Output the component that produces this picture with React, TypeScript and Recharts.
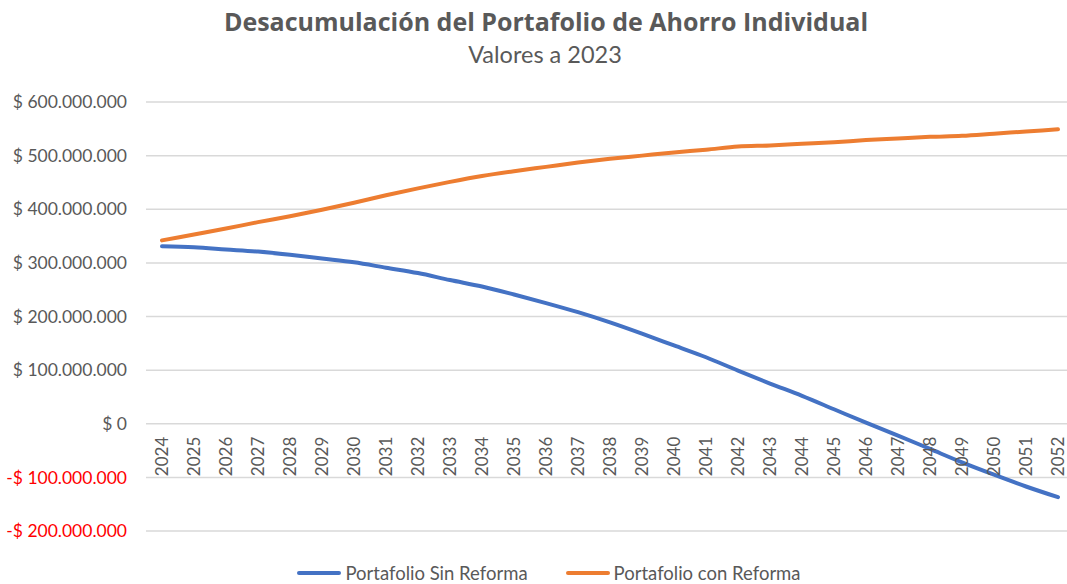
import React from 'react';
import { LineChart, Line, XAxis, YAxis, CartesianGrid } from 'recharts';

const years = [
  '2024', '2025', '2026', '2027', '2028', '2029', '2030', '2031', '2032', '2033',
  '2034', '2035', '2036', '2037', '2038', '2039', '2040', '2041', '2042', '2043',
  '2044', '2045', '2046', '2047', '2048', '2049', '2050', '2051', '2052',
];

// millones de pesos
const sinReforma = [
  331, 329, 325, 321, 315, 308, 301, 291, 281, 268,
  256, 241, 225, 208, 189, 168, 146, 124, 99, 75,
  52, 27, 2, -22, -47, -72, -95, -117, -137,
];

const conReforma = [
  342, 353, 364, 376, 387, 399, 412, 426, 439, 451,
  462, 471, 479, 487, 494, 500, 506, 511, 517, 519,
  522, 525, 529, 532, 535, 537, 541, 545, 549,
];

const yTicks = [600, 500, 400, 300, 200, 100, 0, -100, -200];

const data = years.map((y, i) => ({
  year: y,
  sin: sinReforma[i] * 1e6,
  con: conReforma[i] * 1e6,
}));

const BLUE = '#4472C4';
const ORANGE = '#ED7D31';
const GREY = '#595959';
const FONT = 'Lato, "Noto Sans", sans-serif';

const TOP = 102;
const PLOT_H = 429;
const Y_MAX = 600e6;
const Y_MIN = -200e6;
const zeroY = TOP + (PLOT_H * Y_MAX) / (Y_MAX - Y_MIN);

const money = (v: number) => {
  const s = Math.abs(v).toLocaleString('de-DE');
  return v < 0 ? `-$ ${s}` : `$ ${s}`;
};

function YTick(props: any) {
  const { x, y, payload } = props;
  const v = payload.value as number;
  return (
    <text x={x} y={y} dy="0.35em" textAnchor="end" fontSize={17.5} fontFamily={FONT} fill={v < 0 ? '#FF0000' : GREY}>
      {money(v)}
    </text>
  );
}

function XTick(props: any) {
  const { x, payload } = props;
  const ty = zeroY + 13;
  return (
    <text
      x={x}
      y={ty}
      dy="0.35em"
      textAnchor="end"
      fontSize={17}
      fontFamily={FONT}
      fill={GREY}
      transform={`rotate(-90 ${x} ${ty})`}
    >
      {payload.value}
    </text>
  );
}

function LegendItem({ color, label }: { color: string; label: string }) {
  return (
    <div style={{ display: 'flex', alignItems: 'center' }}>
      <div style={{ width: 44, height: 4, background: color, borderRadius: 2, marginRight: 4 }} />
      <span style={{ fontSize: 18.5, color: GREY, fontFamily: FONT }}>{label}</span>
    </div>
  );
}

export default function App() {
  return (
    <div style={{ position: 'fixed', top: 0, left: 0, width: 1067, height: 584, overflow: 'hidden', background: '#fff', fontFamily: FONT }}>
      <div style={{ position: 'absolute', top: 4, left: 0, width: 1092, textAlign: 'center', fontSize: 25, fontWeight: 700, color: GREY, fontFamily: '"Open Sans", sans-serif' }}>
        Desacumulación del Portafolio de Ahorro Individual
      </div>
      <div style={{ position: 'absolute', top: 40, left: 0, width: 1090, textAlign: 'center', fontSize: 23.5, color: GREY }}>
        Valores a 2023
      </div>

      <div style={{ position: 'absolute', top: 0, left: 0 }}>
        <LineChart width={1080} height={584} data={data} margin={{ top: TOP, right: 6, bottom: 584 - TOP - PLOT_H - 1, left: 0 }}>
          <CartesianGrid horizontal vertical={false} stroke="#D9D9D9" strokeWidth={1.5} />
          <YAxis
            width={146}
            domain={[Y_MIN, Y_MAX]}
            ticks={yTicks.map((t) => t * 1e6)}
            axisLine={false}
            tickLine={false}
            tickSize={0}
            tickMargin={19}
            tick={<YTick />}
            interval={0}
          />
          <XAxis
            dataKey="year"
            height={1}
            padding={{ left: 16, right: 16 }}
            axisLine={false}
            tickLine={false}
            tick={<XTick />}
            interval={0}
          />
          <Line type="monotone" dataKey="con" stroke={ORANGE} strokeWidth={4} dot={false} isAnimationActive={false} strokeLinecap="round" />
          <Line type="monotone" dataKey="sin" stroke={BLUE} strokeWidth={4} dot={false} isAnimationActive={false} strokeLinecap="round" />
        </LineChart>
      </div>

      <div style={{ position: 'absolute', top: 562, left: 0, width: 1098, display: 'flex', justifyContent: 'center', gap: 38 }}>
        <LegendItem color={BLUE} label="Portafolio Sin Reforma" />
        <LegendItem color={ORANGE} label="Portafolio con Reforma" />
      </div>
    </div>
  );
}
